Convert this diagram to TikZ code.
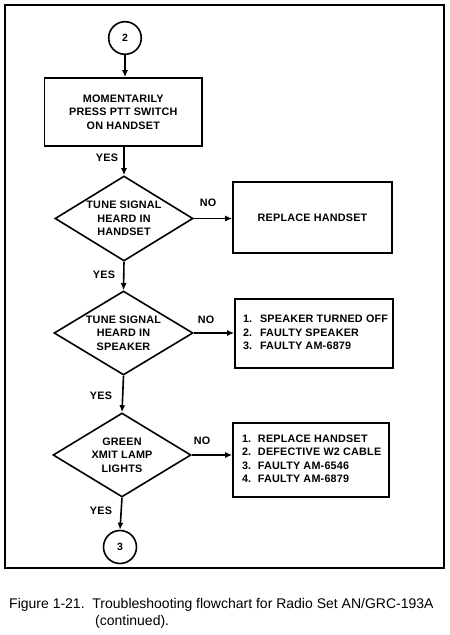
\documentclass[tikz,border=0pt]{standalone}
\usepackage{fontspec}
\setmainfont{Liberation Sans}
\newfontfamily\bodyfont[LetterSpace=2]{Liberation Sans}
\usetikzlibrary{shapes.geometric,arrows.meta}
\begin{document}
\begin{tikzpicture}[x=1pt,y=-1pt,
  every node/.style={inner sep=0pt},
  txt/.style={font=\bodyfont\bfseries\fontsize{10.8}{13.5}\selectfont, align=center},
  boxnode/.style={txt, draw, line width=1.6pt, rectangle},
  decision/.style={txt, draw, line width=1.6pt, diamond, shape aspect=1.62},
  conn/.style={circle, draw, line width=1.6pt, font=\bodyfont\bfseries\fontsize{10.5}{12}\selectfont},
  flow/.style={line width=1.6pt, -{Latex[length=7pt,width=6pt]}},
  lbl/.style={font=\bodyfont\bfseries\fontsize{10.8}{12}\selectfont},
  captext/.style={font=\fontsize{14}{17}\selectfont, anchor=west}
]
\useasboundingbox (0,0) rectangle (450,635);
\draw[line width=2.8pt] (5,5) rectangle (444,568);

\node[conn, minimum size=32.6pt] (c2) at (125,38) {2};
\node[boxnode, minimum width=157.5pt, minimum height=68pt] (b1) at (123.3,112)
  {MOMENTARILY\\PRESS PTT SWITCH\\ON HANDSET};
\node[decision, minimum width=138pt, minimum height=85pt] (d1) at (124,218.5)
  {TUNE SIGNAL\\HEARD IN\\HANDSET};
\node[boxnode, minimum width=159pt, minimum height=71pt] (b2) at (312.5,217.5)
  {REPLACE HANDSET};
\node[decision, minimum width=139pt, minimum height=84pt] (d2) at (123.5,333)
  {TUNE SIGNAL\\HEARD IN\\SPEAKER};
\node[boxnode, minimum width=158pt, minimum height=69pt] (b3) at (314,333.5)
  {\makebox[142pt][l]{\begin{tabular}{@{}l@{}}
   \makebox[17pt][l]{1.}SPEAKER TURNED OFF\\
   \makebox[17pt][l]{2.}FAULTY SPEAKER\\
   \makebox[17pt][l]{3.}FAULTY AM-6879\end{tabular}}};
\node[decision, minimum width=138pt, minimum height=84pt] (d3) at (122,455)
  {GREEN\\XMIT LAMP\\LIGHTS};
\node[boxnode, minimum width=156pt, minimum height=74pt] (b4) at (311,460)
  {\makebox[138pt][l]{\begin{tabular}{@{}l@{}}
   \makebox[16pt][l]{1.}REPLACE HANDSET\\
   \makebox[16pt][l]{2.}DEFECTIVE W2 CABLE\\
   \makebox[16pt][l]{3.}FAULTY AM-6546\\
   \makebox[16pt][l]{4.}FAULTY AM-6879\end{tabular}}};
\node[conn, minimum size=33pt] (c3) at (120,547) {3};

\draw[flow] (c2.south) -- (c2.south |- b1.north);
\draw[flow] (d1.north |- b1.south) -- (d1.north);
\draw[flow] (d1.south) -- (d2.north);
\draw[flow] (d2.south) -- (d3.north);
\draw[flow] (d3.south) -- (c3.north);
\draw[flow] (d1.east) -- (d1.east -| b2.west);
\draw[flow] (d2.east) -- (d2.east -| b3.west);
\draw[flow] (d3.east) -- (d3.east -| b4.west);

\node[lbl] (y1) at (107,158) {YES};
\node[lbl] (y2) at (104,275) {YES};
\node[lbl] (y3) at (101,396) {YES};
\node[lbl] (y4) at (101,511) {YES};
\node[lbl] (n1) at (208,203) {NO};
\node[lbl] (n2) at (206,320) {NO};
\node[lbl] (n3) at (202,441) {NO};

\node[captext] (cap1) at (9,605) {Figure 1-21.\ \ Troubleshooting flowchart for Radio Set AN/GRC-193A};
\node[captext] (cap2) at (95,622) {(continued).};
\end{tikzpicture}
\end{document}
